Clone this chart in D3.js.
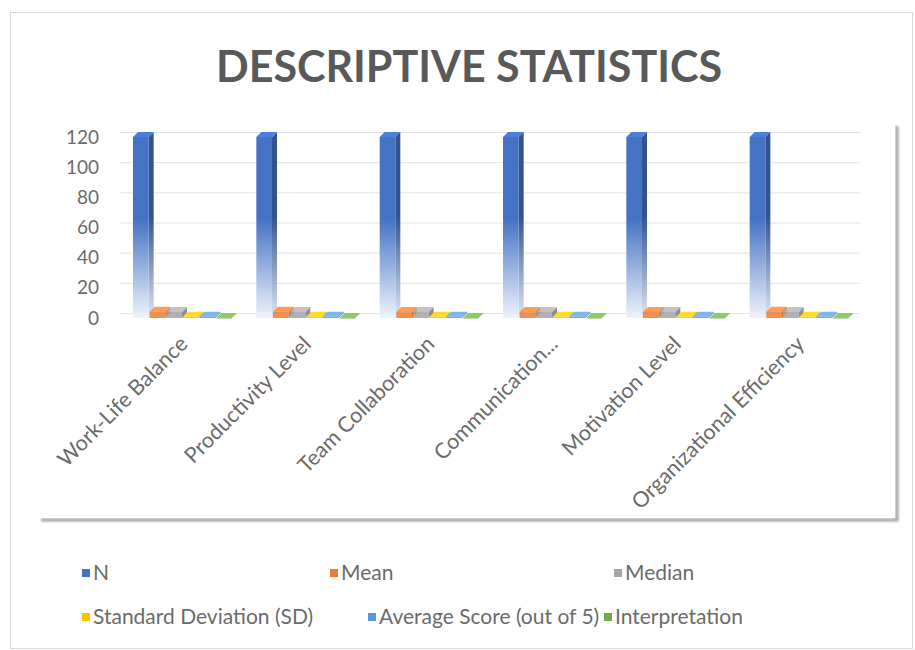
<!DOCTYPE html>
<html><head><meta charset="utf-8">
<script src="https://cdn.jsdelivr.net/npm/d3@7"></script>
<style>body{margin:0;background:#fff;} text{font-family:Lato,"Open Sans",sans-serif;}</style>
</head><body>
<svg id="c" width="915" height="650"></svg>
<script>
const categories = ["Work-Life Balance","Productivity Level","Team Collaboration","Communication...","Motivation Level","Organizational Efficiency"];
const seriesNames = ["N","Mean","Median","Standard Deviation (SD)","Average Score (out of 5)","Interpretation"];
const seriesColors = ["#4472C4","#ED7D31","#A5A5A5","#FFC000","#5B9BD5","#70AD47"];
const N_values      = [120,120,120,120,120,120];
const mean_values   = [4.2,4.1,3.9,3.9,4.0,4.2];
const median_values = [4,4,4,4,4,4];
const sd_values     = [0.8,0.8,0.8,0.8,0.8,0.8];
const avg_values    = [0.8,0.8,0.8,0.8,0.8,0.8];
const interp_values = [0,0,0,0,0,0];
const yTicks = [0,20,40,60,80,100,120];
const seriesValues = [N_values,mean_values,median_values,sd_values,avg_values,interp_values];

const svg = d3.select("#c");
const defs = svg.append("defs");
const sh = defs.append("filter").attr("id","sh").attr("x","-5%").attr("y","-5%").attr("width","110%").attr("height","110%");
sh.append("feGaussianBlur").attr("stdDeviation",1.2);

// outer border
svg.append("rect").attr("x",10.5).attr("y",12.5).attr("width",902).attr("height",636)
  .attr("fill","#fff").attr("stroke","#d9d9d9");

// plot area box with shadow
svg.append("path").attr("d","M897,126 L897,520 L41,520").attr("fill","none")
  .attr("stroke","#a0a0a0").attr("stroke-width",3).attr("filter","url(#sh)");
svg.append("rect").attr("x",40).attr("y",124).attr("width",855).attr("height",394).attr("fill","#fff");

// title
svg.append("text").attr("x",469).attr("y",82).attr("text-anchor","middle")
  .attr("font-size",43).attr("font-weight","bold").attr("fill","#595959").text("DESCRIPTIVE STATISTICS");

const x0 = d3.scaleBand().domain(categories).range([120,860]);
const x1 = d3.scaleBand().domain(seriesNames).range([13,113]);
const y = d3.scaleLinear().domain([0,120]).range([318,137]);
const depth = 5;

// gridlines on back wall
svg.append("g").selectAll("line").data(yTicks).join("line")
  .attr("x1",120).attr("x2",860)
  .attr("y1",d=>y(d)-depth+0.5).attr("y2",d=>y(d)-depth+0.5)
  .attr("stroke","#e3e3e3");

// y axis labels
svg.append("g").selectAll("text").data(yTicks).join("text")
  .attr("x",99).attr("y",d=>y(d)).attr("dy","0.35em").attr("text-anchor","end")
  .attr("font-size",19).attr("fill","#6b6b6b").text(d=>d);

// gradients
seriesColors.forEach((c,i)=>{
  const dk = d3.color(c).darker(0.9).formatHex();
  const g = defs.append("linearGradient").attr("id","gf"+i).attr("x1",0).attr("x2",0).attr("y1",0).attr("y2",1);
  g.append("stop").attr("offset","0%").attr("stop-color",c);
  g.append("stop").attr("offset","45%").attr("stop-color",c);
  g.append("stop").attr("offset","100%").attr("stop-color","#eef3fb");
  const s = defs.append("linearGradient").attr("id","gs"+i).attr("x1",0).attr("x2",0).attr("y1",0).attr("y2",1);
  s.append("stop").attr("offset","0%").attr("stop-color",dk);
  s.append("stop").attr("offset","45%").attr("stop-color",dk);
  s.append("stop").attr("offset","100%").attr("stop-color","#dfe6f2");
});

const bars = [];
categories.forEach((cat,ci)=>{
  seriesNames.forEach((s,si)=>{
    bars.push({cat, s, si, v: seriesValues[si][ci]});
  });
});
const w = x1.bandwidth();
const gBars = svg.append("g");
bars.forEach(b=>{
  const bx = x0(b.cat)+x1(b.s);
  const top = y(b.v), base = y(0);
  const fw = w - 1;
  const small = b.si>0;
  const fill = small ? seriesColors[b.si] : "url(#gf"+b.si+")";
  const side = small ? d3.color(seriesColors[b.si]).darker(0.8).formatHex() : "url(#gs"+b.si+")";
  const topc = d3.color(seriesColors[b.si]).brighter(0.3).formatHex();
  gBars.append("path").attr("d",`M${bx+fw},${top} L${bx+fw+depth},${top-depth} L${bx+fw+depth},${base-depth} L${bx+fw},${base} Z`)
    .attr("fill",side).attr("opacity",small?0.85:1);
  gBars.append("path").attr("d",`M${bx},${top} L${bx+depth},${top-depth} L${bx+fw+depth},${top-depth} L${bx+fw},${top} Z`)
    .attr("fill",topc).attr("opacity",small?0.85:1);
  gBars.append("rect").attr("x",bx).attr("y",top).attr("width",fw).attr("height",Math.max(0.5,base-top))
    .attr("fill",fill).attr("opacity",small?0.85:1);
});

// x labels
svg.append("g").selectAll("text").data(categories).join("text")
  .attr("transform",d=>`translate(${x0(d)+x0.bandwidth()/2+2},${340}) rotate(-45)`)
  .attr("text-anchor","end").attr("dy","0.35em")
  .attr("font-size",21.5).attr("fill","#6b6b6b").text(d=>d);

// legend
const legendPos = [[82,573],[330,573],[614,573],[82,617],[368,617],[604,617]];
const lg = svg.append("g").selectAll("g").data(seriesNames).join("g")
  .attr("transform",(d,i)=>`translate(${legendPos[i][0]},${legendPos[i][1]})`);
lg.append("rect").attr("x",0).attr("y",-4).attr("width",8).attr("height",8).attr("fill",(d,i)=>seriesColors[i]);
lg.append("text").attr("x",11).attr("dy","0.35em").attr("font-size",21).attr("fill","#6b6b6b").text(d=>d);
</script>
</body></html>
